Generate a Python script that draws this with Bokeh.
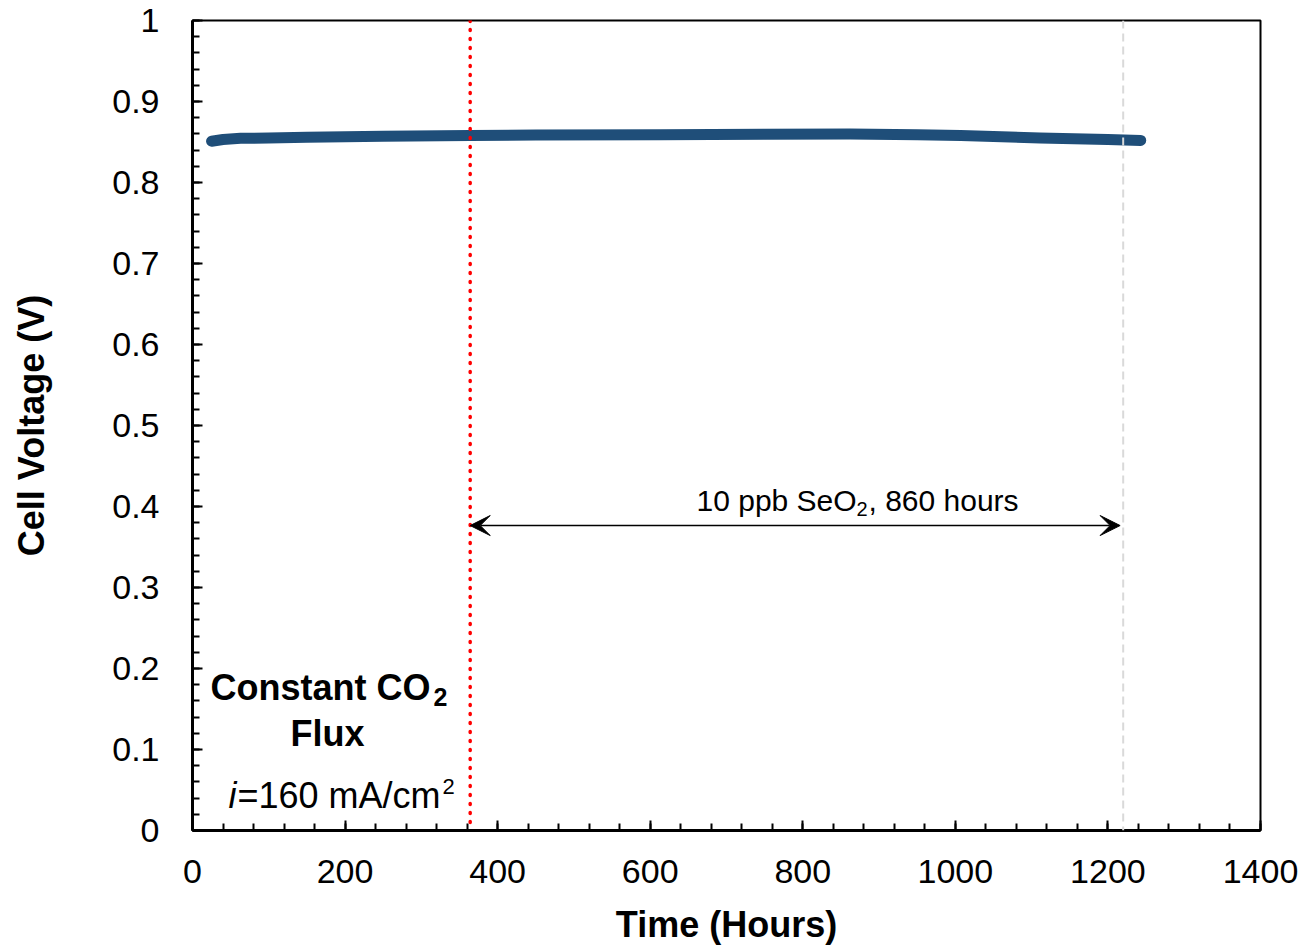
from bokeh.plotting import figure
from bokeh.models import (Label, Span, Arrow, VeeHead, FixedTicker, CustomJSTickFormatter,
                          ColumnDataSource)
from bokeh.embed import file_html
from bokeh.resources import INLINE

# ---- data ----
time_h = [25, 40, 63, 100, 150, 250, 364, 450, 613, 750, 862, 950, 1007, 1111, 1200, 1243]
voltage = [0.851, 0.853, 0.8545, 0.855, 0.856, 0.857, 0.858, 0.8585, 0.859, 0.8595,
           0.860, 0.859, 0.858, 0.855, 0.853, 0.852]
x_ticks = [0, 200, 400, 600, 800, 1000, 1200, 1400]
y_ticks = [0, 0.1, 0.2, 0.3, 0.4, 0.5, 0.6, 0.7, 0.8, 0.9, 1.0]
se_start = 364     # start of SeO2 exposure (hours)
se_end = 1220      # end of 860 h window
arrow_y = 0.3765

FONT = "Liberation Sans"

p = figure(width=1305, height=949, x_range=(0, 1400), y_range=(0, 1),
           output_backend="svg", toolbar_location=None,
           min_border_left=192, min_border_right=45, min_border_top=20, min_border_bottom=119)
p.background_fill_color = "white"
p.border_fill_color = "white"
p.outline_line_color = "black"
p.outline_line_width = 2
p.xgrid.visible = False
p.ygrid.visible = False

for ax in (p.xaxis[0], p.yaxis[0]):
    ax.axis_line_width = 3
    ax.axis_line_color = "black"
    ax.major_tick_in = 10
    ax.major_tick_out = 0
    ax.minor_tick_in = 7
    ax.minor_tick_out = 0
    ax.major_tick_line_width = 2
    ax.minor_tick_line_width = 2
    ax.major_tick_line_color = "black"
    ax.minor_tick_line_color = "black"
    ax.major_label_text_font = FONT
    ax.major_label_text_font_size = "34px"
    ax.major_label_text_color = "black"
    ax.axis_label_text_font = FONT
    ax.axis_label_text_font_size = "36px"
    ax.axis_label_text_font_style = "bold"
    ax.axis_label_text_color = "black"

p.xaxis.ticker = FixedTicker(ticks=x_ticks, minor_ticks=[i * 40 for i in range(36)])
p.yaxis.ticker = FixedTicker(ticks=y_ticks, minor_ticks=[i * 0.02 for i in range(51)])
p.yaxis.formatter = CustomJSTickFormatter(code="return (Math.round(tick*10)/10).toString();")
p.xaxis.axis_label = "Time (Hours)"
p.yaxis.axis_label = "Cell Voltage (V)"
p.xaxis.major_label_standoff = 29
p.yaxis.major_label_standoff = 33
p.xaxis.axis_label_standoff = 18
p.yaxis.axis_label_standoff = 57

# vertical markers
p.add_layout(Span(location=se_end, dimension="height", line_color="#d9d9d9",
                  line_width=2, line_dash="8 5"))
p.add_layout(Span(location=se_start, dimension="height", line_color="#ff0000",
                  line_width=3.5, line_dash="1 8", line_cap="round"))

# data
src = ColumnDataSource(dict(t=time_h, v=voltage))
p.line("t", "v", source=src, line_color="#1F4E79", line_width=11,
       line_cap="round", line_join="round")

# arrow
p.add_layout(Arrow(x_start=se_start, x_end=se_end - 4, y_start=arrow_y, y_end=arrow_y,
                   line_color="black", line_width=1.5,
                   start=VeeHead(size=20, fill_color="black", line_color="black"),
                   end=VeeHead(size=20, fill_color="black", line_color="black")))

def lab(x, y, text, size, style="normal", align="left", color="black"):
    p.add_layout(Label(x=x, y=y, text=text, text_font=FONT, text_font_size=size,
                       text_font_style=style, text_align=align, text_baseline="alphabetic",
                       text_color=color))

# px -> data helpers used only for annotation placement
def hx(px):
    return (px - 192) / (1068 / 1400)

def vy(py):
    return (830 - py) / 810

lab(hx(696), vy(500), "10 ppb SeO", "30px")
lab(hx(856), vy(508), "2", "20px")
lab(hx(868), vy(500), ", 860 hours", "30px")

lab(hx(210), vy(687), "Constant CO", "36px", "bold")
lab(hx(433), vy(696), "2", "25px", "bold")
lab(hx(327), vy(733), "Flux", "36px", "bold", align="center")

lab(hx(228), vy(795), "i", "36px", "italic")
lab(hx(237), vy(795), "=160 mA/cm", "36px")
lab(hx(442), vy(786), "2", "22px")

open("out.html", "w").write(file_html(p, INLINE))
